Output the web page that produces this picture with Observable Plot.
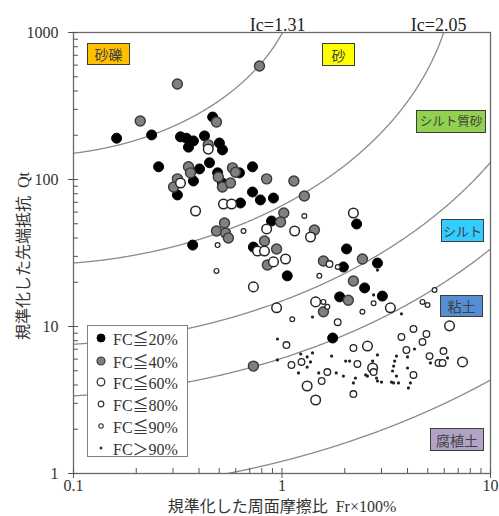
<!DOCTYPE html>
<html><head><meta charset="utf-8">
<script src="https://cdn.jsdelivr.net/npm/d3@7"></script>
<script src="https://cdn.jsdelivr.net/npm/@observablehq/plot@0.6"></script>
<style>
body{margin:0;background:#fff;}
#wrap{position:relative;width:499px;height:516px;overflow:hidden;background:#fff;}
.zone{position:absolute;box-sizing:border-box;border:1.5px solid #3c3c3c;font-family:"Noto Sans CJK JP",sans-serif;font-size:14px;color:#404040;display:flex;align-items:center;justify-content:center;line-height:1;}
.title{position:absolute;white-space:nowrap;font-family:"Noto Sans CJK JP",sans-serif;font-size:16px;color:#333;line-height:16px;height:16px;}
.title .s{font-family:"Liberation Serif",serif;font-size:16px;line-height:16px;}
#legend{position:absolute;left:87px;top:325px;width:101px;height:132px;box-sizing:border-box;border:1px solid #808080;background:#fff;}
#legend .row{position:absolute;left:0;height:20px;display:flex;align-items:center;font-family:"Liberation Serif","Noto Sans CJK JP",serif;font-size:16px;color:#333;white-space:nowrap;}
#legend svg{width:22px;height:20px;}
</style></head>
<body><div id="wrap"></div>
<script>
// ---- data (Fr %, Qt) ----
const fc20 = [[0.161,191],[0.237,201],[0.465,266],[0.326,195],[0.348,191],[0.376,183],[0.356,166],[0.425,198],[0.501,177],[0.518,159],[0.256,122],[0.402,118],[0.449,130],[0.491,111],[0.625,111],[0.722,122],[0.376,97.7],[0.315,78.5],[0.518,94.6],[0.722,82.2],[0.788,72.6],[0.910,74.8],[0.632,69.2],[0.891,52.2],[0.373,35.8],[0.729,34.7],[1.06,22.1],[2.28,49.8],[2.04,33.7],[1.97,25.4],[2.87,27.0],[2.49,18.3],[3.03,16.1],[1.89,15.9],[1.75,8.35]];
const fc40 = [[0.780,592],[0.315,446],[0.209,250],[0.485,246],[0.443,172],[0.356,122],[0.364,111],[0.579,120],[0.598,112],[0.315,101],[0.302,88.9],[0.495,104],[0.518,88.9],[0.566,94.6],[0.844,101],[1.14,97.7],[1.28,77.2],[1.02,59.2],[0.984,51.4],[0.530,50.6],[0.485,44.6],[0.536,43.3],[0.553,40.0],[1.43,45.3],[0.824,38.2],[0.942,33.7],[0.851,26.2],[1.58,27.9],[2.43,28.8],[2.20,20.4],[2.08,15.1],[1.58,12.6],[0.729,5.38]];
const fc60 = [[0.443,161],[0.524,68.1],[0.573,68.1],[0.385,61.1],[0.326,94.6],[0.844,46.1],[1.15,44.6],[1.37,40.6],[2.20,59.2],[0.763,32.6],[0.824,32.6],[0.910,27.5],[1.04,28.8],[0.729,18.6],[1.45,14.7],[0.942,13.4],[3.31,13.4],[6.36,10.1],[1.32,3.94],[7.34,5.74],[2.72,5.22],[2.57,7.36],[1.45,3.16]];
const fc80 = [[1.85,10.7],[2.20,7.14],[1.05,7.48],[1.11,5.47],[1.24,5.74],[1.65,4.90],[1.55,4.26],[2.20,3.47],[2.30,5.56],[2.75,4.90],[3.74,8.49],[4.27,9.62],[4.93,8.89],[4.72,7.85],[3.95,6.92],[5.95,6.81],[5.63,5.65],[5.89,5.65],[4.27,4.68],[5.10,6.29],[1.69,26.6]];
const fc90 = [[0.491,35.8],[0.485,23.9],[1.28,56.5],[1.51,22.1],[0.654,44.6],[1.85,25.4],[1.65,13.6],[2.43,12.6],[2.75,14.4],[4.72,14.7],[4.99,14.0],[5.39,17.7],[1.58,14.7],[1.12,11.2]];
const fcOver90 = [[2.87,24.2],[2.75,16.4],[1.40,11.6],[3.74,12.2],[0.951,8.22],[0.951,5.92],[1.23,6.50],[1.32,6.21],[1.40,6.61],[1.37,5.74],[1.32,5.30],[1.20,4.83],[1.73,6.29],[2.02,5.82],[2.11,5.82],[1.82,4.83],[1.97,4.60],[2.25,4.46],[2.20,4.13],[2.87,6.41],[2.72,5.82],[3.54,6.29],[3.47,5.82],[3.43,5.38],[3.39,4.98],[3.54,4.60],[3.62,4.13],[3.43,4.13],[4.00,6.21],[4.00,5.22],[4.13,4.13],[4.04,3.82],[5.15,5.65],[6.22,6.11],[2.57,4.60],[2.84,4.46],[3.00,4.19],[3.35,4.19],[1.50,4.83],[4.32,7.03],[2.52,4.68],[2.87,4.26]];

const legendLabels = ["FC≦20%","FC≦40%","FC≦60%","FC≦80%","FC≦90%","FC＞90%"];
const zoneLabels = ["砂礫","砂","シルト質砂","シルト","粘土","腐植土"];
const icValues = [1.31, 2.05, 2.60, 2.95, 3.60];
const icLabelled = [1.31, 2.05];
const xMajor = [0.1, 1, 10];
const yMajor = [1, 10, 100, 1000];
const xTitle = ["規準化した周面摩擦比", "Fr×100%"];
const yTitle = ["規準化した先端抵抗", "Qt"];

// Robertson soil-behaviour-type index: circles in log space
const IC_CX = -1.22, IC_CY = 3.47;
function icCurve(ic) {
  const pts = [];
  const end = Math.min(IC_CX + ic, 1.05);
  const n = 600;
  for (let i = 0; i <= n; i++) {
    const lx = -1 + (end + 1) * i / n;
    const d = lx - IC_CX;
    const v = ic * ic - d * d;
    if (v < 0) continue;
    pts.push({ic, fr: 10 ** lx, qt: 10 ** (IC_CY - Math.sqrt(v))});
  }
  return pts;
}
const curves = icValues.flatMap(icCurve);
const topFr = ic => 10 ** (IC_CX + Math.sqrt(ic * ic - (IC_CY - 3) ** 2));

const minorX = [];
for (const b of [0.1, 1]) for (let k = 2; k <= 9; k++) minorX.push(+(b * k).toFixed(2));
const minorY = [];
for (const b of [1, 10, 100]) for (let k = 2; k <= 9; k++) minorY.push(b * k);

const series = [
  {data: fc20, r: 5, fill: "#000", stroke: "#000", sw: 1},
  {data: fc40, r: 5, fill: "#808080", stroke: "#3a3a3a", sw: 1.4},
  {data: fc60, r: 4.8, fill: "#fff", stroke: "#262626", sw: 1.5},
  {data: fc80, r: 3.3, fill: "#fff", stroke: "#262626", sw: 1.3},
  {data: fc90, r: 2.4, fill: "#fff", stroke: "#262626", sw: 1.2},
  {data: fcOver90, r: 1.6, fill: "#222", stroke: "none", sw: 0}
];

const svg = Plot.plot({
  width: 499, height: 516,
  marginLeft: 73, marginRight: 9, marginTop: 32, marginBottom: 43,
  x: {type: "log", domain: [0.1, 10]},
  y: {type: "log", domain: [1, 1000]},
  style: {fontFamily: "'Liberation Serif', serif", background: "white", color: "#333"},
  marks: [
    Plot.line(curves, {x: "fr", y: "qt", z: "ic", stroke: "#8a8a8a", strokeWidth: 1.3, clip: true}),
    Plot.frame({stroke: "#6a6a6a", strokeWidth: 1.3}),
    Plot.tickX([...xMajor, ...minorX], {x: d => d, insetTop: 436, stroke: "#555"}),
    Plot.tickY([...yMajor, ...minorY], {y: d => d, insetRight: 412, stroke: "#555"}),
    Plot.axisX(xMajor, {tickSize: 5, tickPadding: 1, tickFormat: d => String(d), fontSize: 16, stroke: "#555", fill: "#333", label: null}),
    Plot.axisY(yMajor, {tickSize: 5, tickPadding: 10, tickFormat: d => String(d), fontSize: 16, stroke: "#555", fill: "#333", label: null}),
    Plot.text(icLabelled, {x: topFr, frameAnchor: "top", dy: -14, dx: -5, text: ic => `Ic=${ic.toFixed(2)}`, fontSize: 18, fill: "#222"}),
    ...series.map(s => Plot.dot(s.data, {x: d => d[0], y: d => d[1], r: s.r, fill: s.fill, stroke: s.stroke, strokeWidth: s.sw}))
  ]
});
const wrap = document.getElementById("wrap");
wrap.appendChild(svg);

// zone label boxes
const zoneBoxes = [
  {left: 87, top: 43, w: 43, h: 22, bg: "#FFC000", fs: 14},
  {left: 322, top: 43, w: 33, h: 23, bg: "#FFFF00", fs: 14},
  {left: 416, top: 110, w: 70, h: 23, bg: "#92D050", fs: 12.5},
  {left: 441, top: 219, w: 43, h: 23, bg: "#33CCFF", fs: 13},
  {left: 440, top: 295, w: 43, h: 22, bg: "#558ED5", fs: 14},
  {left: 430, top: 428, w: 54, h: 23, bg: "#B3A2C7", fs: 14}
];
zoneBoxes.forEach((b, i) => {
  const d = document.createElement("div");
  d.className = "zone";
  Object.assign(d.style, {left: b.left + "px", top: b.top + "px", width: b.w + "px", height: b.h + "px", background: b.bg, fontSize: b.fs + "px"});
  d.textContent = zoneLabels[i];
  wrap.appendChild(d);
});

// axis titles
const xt = document.createElement("div");
xt.className = "title";
Object.assign(xt.style, {left: "282px", top: "497px", transform: "translateX(-50%)"});
xt.innerHTML = `${xTitle[0]}&ensp;<span class="s">${xTitle[1]}</span>`;
wrap.appendChild(xt);
const yt = document.createElement("div");
yt.className = "title";
Object.assign(yt.style, {left: "22px", top: "256px", transform: "translate(-50%,-50%) rotate(-90deg)"});
yt.innerHTML = `${yTitle[0]}&ensp;<span class="s">${yTitle[1]}</span>`;
wrap.appendChild(yt);

// legend
const leg = document.createElement("div");
leg.id = "legend";
const legMarks = [
  {r: 4, fill: "#000", stroke: "#000", sw: 1},
  {r: 4, fill: "#808080", stroke: "#3a3a3a", sw: 1.2},
  {r: 3.8, fill: "#fff", stroke: "#333", sw: 1.3},
  {r: 2.8, fill: "#fff", stroke: "#333", sw: 1.2},
  {r: 2.2, fill: "#fff", stroke: "#333", sw: 1.1},
  {r: 1.5, fill: "#333", stroke: "none", sw: 0}
];
const rowTops = [2, 25, 46, 68, 90, 112];
legendLabels.forEach((lab, i) => {
  const m = legMarks[i];
  const row = document.createElement("div");
  row.className = "row";
  row.style.top = rowTops[i] + "px";
  row.style.left = "3px";
  row.innerHTML = `<svg viewBox="0 0 22 20"><circle cx="10" cy="10" r="${m.r}" fill="${m.fill}" stroke="${m.stroke}" stroke-width="${m.sw}"/></svg><span>${lab}</span>`;
  leg.appendChild(row);
});
wrap.appendChild(leg);
</script>
</body></html>
